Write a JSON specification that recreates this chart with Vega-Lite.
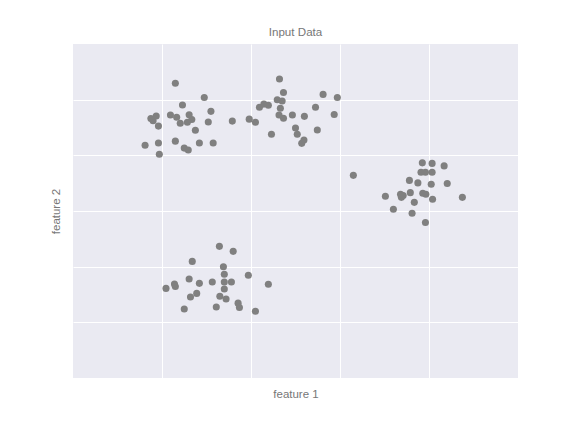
{
  "$schema": "https://vega.github.io/schema/vega-lite/v6.json",
  "autosize": {"type": "none"},
  "width": 445,
  "height": 334,
  "padding": {"left": 73, "top": 44, "right": 58, "bottom": 54},
  "background": "white",
  "title": {"text": "Input Data", "fontSize": 11.6, "fontWeight": "normal", "font": "Liberation Sans", "color": "#777777", "offset": 5},
  "config": {
    "view": {"fill": "#EAEAF2", "stroke": null},
    "axis": {"grid": true, "gridColor": "white", "gridWidth": 1, "gridOpacity": 1, "ticks": false, "labels": false, "domain": false, "titleFont": "Liberation Sans", "titleFontSize": 11.5, "titleFontWeight": "normal", "titleColor": "#777777"}
  },
  "data": {"values": [
    {"x": -1.70, "y": 8.59}, {"x": -1.05, "y": 8.08}, {"x": -1.54, "y": 7.81}, {"x": -0.90, "y": 7.58},
    {"x": -2.25, "y": 7.32}, {"x": -2.13, "y": 7.41}, {"x": -2.20, "y": 7.24}, {"x": -2.08, "y": 7.05},
    {"x": -1.81, "y": 7.45}, {"x": -1.67, "y": 7.37}, {"x": -1.39, "y": 7.46}, {"x": -1.33, "y": 7.29},
    {"x": -1.43, "y": 7.19}, {"x": -1.59, "y": 7.15}, {"x": -0.96, "y": 7.20}, {"x": -0.42, "y": 7.23},
    {"x": -1.25, "y": 6.90}, {"x": -2.38, "y": 6.36}, {"x": -2.08, "y": 6.44}, {"x": -1.70, "y": 6.51},
    {"x": -1.16, "y": 6.44}, {"x": -0.85, "y": 6.44}, {"x": -1.50, "y": 6.26}, {"x": -1.41, "y": 6.19},
    {"x": -2.06, "y": 6.04},
    {"x": 0.64, "y": 8.74}, {"x": 0.73, "y": 8.26}, {"x": 1.62, "y": 8.19}, {"x": 1.94, "y": 8.08},
    {"x": 0.59, "y": 8.00}, {"x": 0.70, "y": 7.95}, {"x": 0.29, "y": 7.84}, {"x": 0.39, "y": 7.80},
    {"x": 0.19, "y": 7.73}, {"x": 0.66, "y": 7.69}, {"x": 1.45, "y": 7.73}, {"x": -0.04, "y": 7.30},
    {"x": 0.10, "y": 7.19}, {"x": 0.63, "y": 7.45}, {"x": 0.73, "y": 7.33}, {"x": 0.93, "y": 7.45},
    {"x": 1.20, "y": 7.40}, {"x": 1.87, "y": 7.47}, {"x": 1.00, "y": 6.98}, {"x": 1.04, "y": 6.76},
    {"x": 1.49, "y": 6.91}, {"x": 0.46, "y": 6.76}, {"x": 1.19, "y": 6.55}, {"x": 1.14, "y": 6.43},
    {"x": 2.30, "y": 5.28}, {"x": 3.85, "y": 5.73}, {"x": 4.07, "y": 5.71}, {"x": 4.34, "y": 5.62},
    {"x": 3.82, "y": 5.39}, {"x": 3.92, "y": 5.39}, {"x": 4.07, "y": 5.39}, {"x": 3.56, "y": 5.10},
    {"x": 3.75, "y": 5.01}, {"x": 4.05, "y": 4.96}, {"x": 4.41, "y": 4.99}, {"x": 3.02, "y": 4.53},
    {"x": 3.36, "y": 4.60}, {"x": 3.42, "y": 4.56}, {"x": 3.38, "y": 4.49}, {"x": 3.58, "y": 4.66},
    {"x": 3.86, "y": 4.64}, {"x": 3.93, "y": 4.60}, {"x": 4.08, "y": 4.42}, {"x": 4.75, "y": 4.49},
    {"x": 3.67, "y": 4.31}, {"x": 3.20, "y": 4.06}, {"x": 3.62, "y": 3.92}, {"x": 3.92, "y": 3.59},
    {"x": -0.71, "y": 2.73}, {"x": -0.40, "y": 2.55}, {"x": -1.32, "y": 2.19}, {"x": -0.62, "y": 2.00},
    {"x": -0.60, "y": 1.73}, {"x": -0.06, "y": 1.69}, {"x": -1.39, "y": 1.56}, {"x": -1.16, "y": 1.40},
    {"x": -0.87, "y": 1.45}, {"x": -0.60, "y": 1.45}, {"x": -0.44, "y": 1.45}, {"x": 0.39, "y": 1.37},
    {"x": -1.91, "y": 1.22}, {"x": -1.72, "y": 1.38}, {"x": -1.70, "y": 1.29}, {"x": -1.22, "y": 1.04},
    {"x": -1.36, "y": 0.91}, {"x": -0.60, "y": 1.20}, {"x": -0.70, "y": 0.94}, {"x": -0.56, "y": 0.84},
    {"x": -0.29, "y": 0.69}, {"x": -0.26, "y": 0.53}, {"x": -0.78, "y": 0.55}, {"x": -1.50, "y": 0.48},
    {"x": 0.10, "y": 0.40}
  ]},
  "mark": {"type": "circle", "color": "#808080", "opacity": 1, "size": 50},
  "encoding": {
    "x": {"field": "x", "type": "quantitative", "title": "feature 1", "scale": {"domain": [-4, 6], "nice": false, "zero": false}, "axis": {"values": [-2, 0, 2, 4], "titlePadding": 10}},
    "y": {"field": "y", "type": "quantitative", "title": "feature 2", "scale": {"domain": [-2, 10], "nice": false, "zero": false}, "axis": {"values": [0, 2, 4, 6, 8], "titlePadding": 12}}
  }
}
